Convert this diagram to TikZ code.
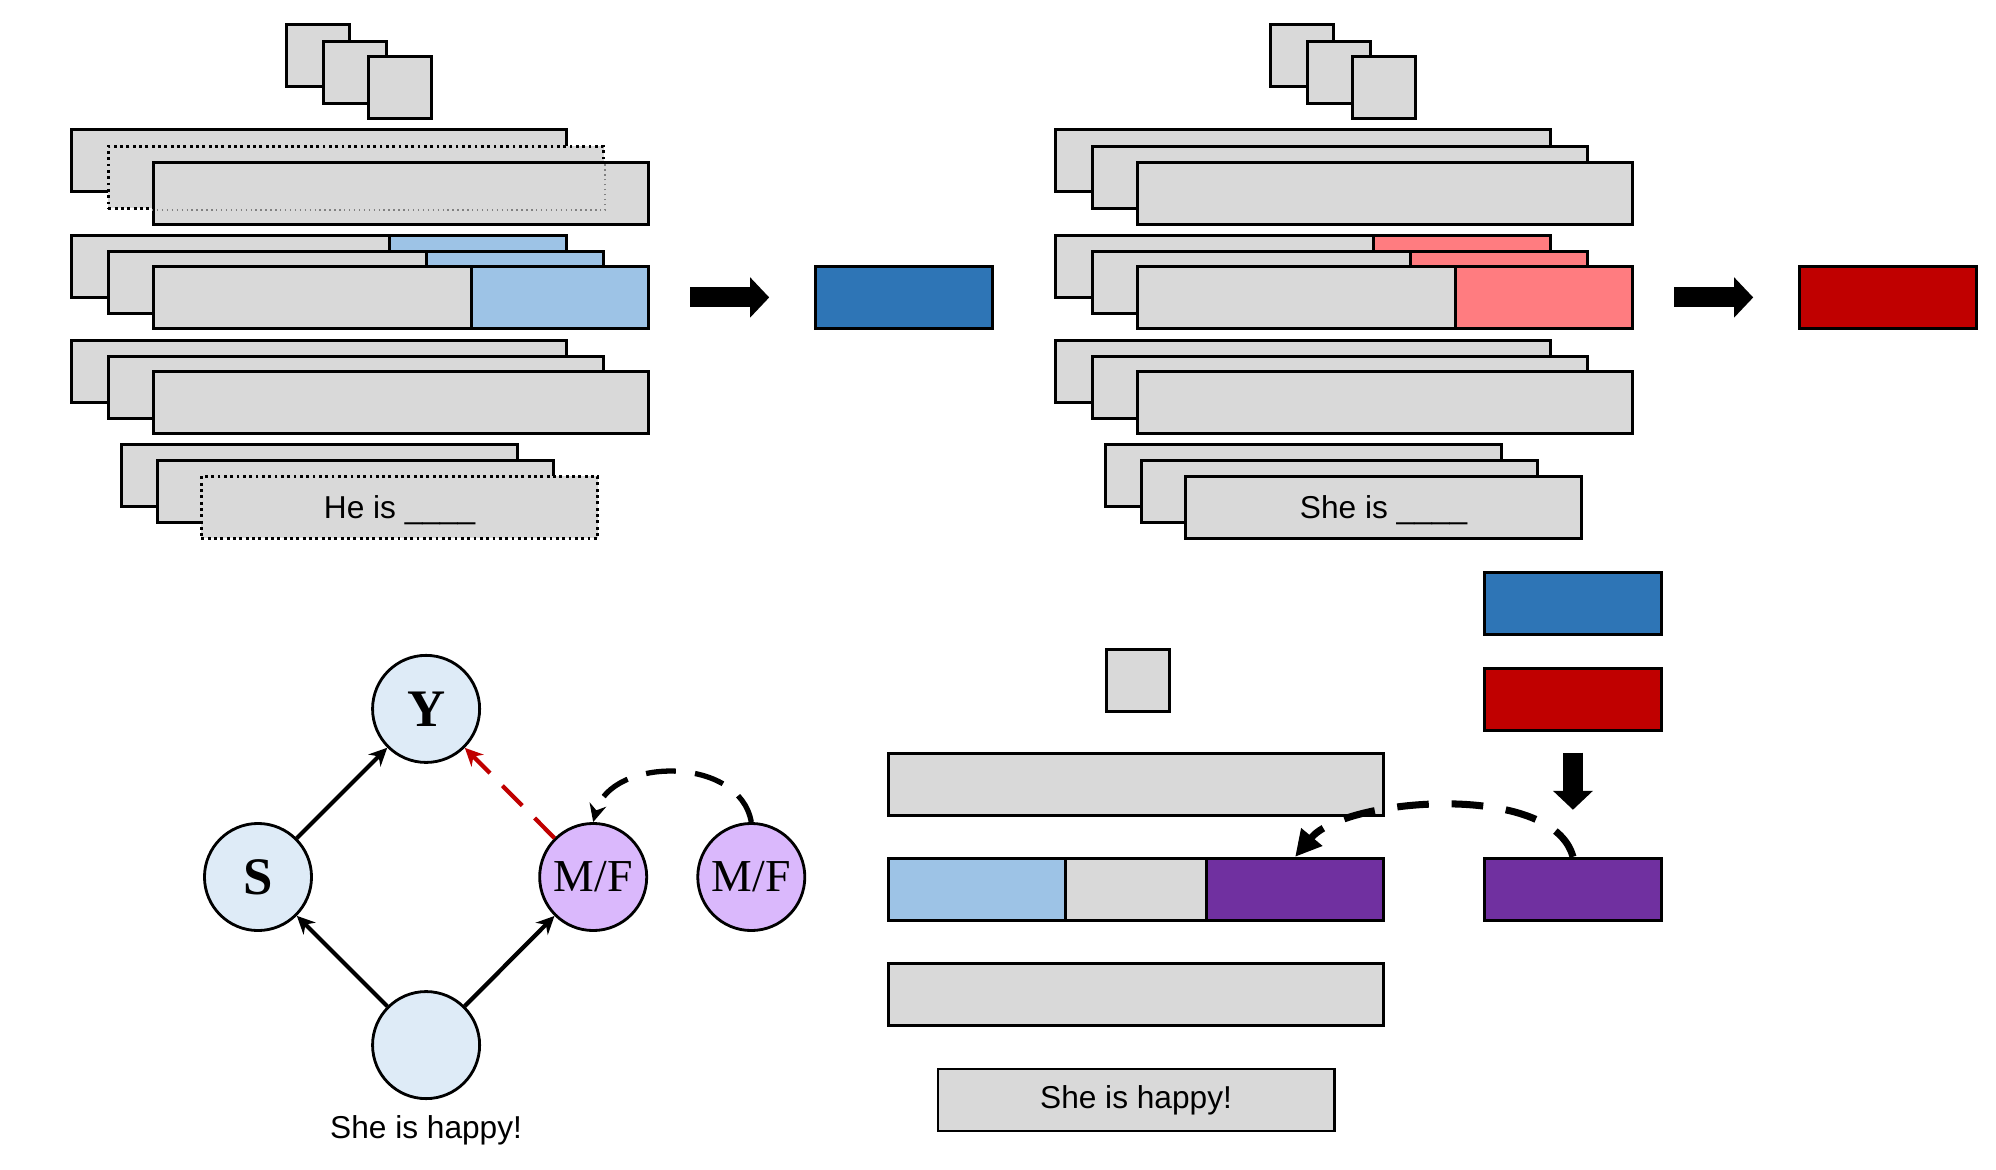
\documentclass[tikz,border=0pt]{standalone}
\usepackage{fontspec}
\setmainfont{Liberation Serif}
\setsansfont{Liberation Sans}
\usetikzlibrary{positioning,arrows.meta}

\definecolor{cardgray}{HTML}{D9D9D9}
\definecolor{lightbar}{HTML}{9DC3E6}
\definecolor{bluevec}{HTML}{2E75B6}
\definecolor{pinkbar}{HTML}{FF7C80}
\definecolor{redvec}{HTML}{C00000}
\definecolor{purplevec}{HTML}{7030A0}
\definecolor{varblue}{HTML}{DEEBF7}
\definecolor{varpurple}{HTML}{DAB8FC}

\begin{document}
\begin{tikzpicture}[x=0.01cm, y=-0.01cm, >={Stealth[length=0.18cm, width=0.17cm]},
    card/.style={draw, fill=cardgray, line width=0.8pt, inner sep=0pt, minimum width=4.95cm, minimum height=0.62cm},
    short/.style={card, minimum width=3.96cm, font=\sffamily\fontsize{9}{11}\selectfont},
    tok/.style={card, minimum width=0.63cm},
    vec/.style={draw, line width=0.8pt, inner sep=0pt, minimum width=1.77cm, minimum height=0.62cm},
    var/.style={circle, draw, line width=0.8pt, inner sep=0pt, minimum size=1.07cm, on grid},
    blockarrow/.style={line width=0.2cm, -{Triangle[length=0.19cm, width=0.39cm]}},
    ]
    \useasboundingbox (0,0) rectangle (1996,1170);

    % left: He is ____
    \node[tok, anchor=north west] (101) at (285,23) {};
    \node[tok] (102) [below right=0.17cm and 0.37cm of 101.north west] {};
    \node[tok] (103) [below right=0.15cm and 0.45cm of 102.north west] {};

    \node[card, anchor=north west] (111) at (70,128) {};
    \node[card, densely dotted] (112) [below right=0.17cm and 0.37cm of 111.north west] {};
    \node[card] (113) [below right=0.16cm and 0.45cm of 112.north west] {};
    \draw[gray, densely dotted] (113.west |- 112.south) -- (112.south east) -- (112.east |- 113.north);

    \node[card, anchor=north west] (121) at (70,234) {};
    \node[vec, fill=lightbar, anchor=north east] (121b) at (121.north east) {};
    \node[card] (122) [below right=0.16cm and 0.37cm of 121.north west] {};
    \node[vec, fill=lightbar, anchor=north east] (122b) at (122.north east) {};
    \node[card] (123) [below right=0.15cm and 0.45cm of 122.north west] {};
    \node[vec, fill=lightbar, anchor=north east] (123b) at (123.north east) {};

    \node[card, anchor=north west] (131) at (70,339) {};
    \node[card] (132) [below right=0.16cm and 0.37cm of 131.north west] {};
    \node[card] (133) [below right=0.15cm and 0.45cm of 132.north west] {};

    \node[short, anchor=north west] (141) at (120,443) {};
    \node[short] (142) [below right=0.16cm and 0.36cm of 141.north west] {};
    \node[short, densely dotted, text depth=0pt] (143) [below right=0.16cm and 0.44cm of 142.north west] {He is \_\_\_\_};

    \node[vec, fill=bluevec] (150) [right=1.64cm of 123b] {};
    \draw[blockarrow, shorten <=0.40cm, shorten >=0.45cm] (123b) -- (150);

    % right: She is ____
    \node[tok, anchor=north west] (201) at (1269,23) {};
    \node[tok] (202) [below right=0.17cm and 0.37cm of 201.north west] {};
    \node[tok] (203) [below right=0.15cm and 0.45cm of 202.north west] {};

    \node[card, anchor=north west] (211) at (1054,128) {};
    \node[card] (212) [below right=0.17cm and 0.37cm of 211.north west] {};
    \node[card] (213) [below right=0.16cm and 0.45cm of 212.north west] {};

    \node[card, anchor=north west] (221) at (1054,234) {};
    \node[vec, fill=pinkbar, anchor=north east] (221b) at (221.north east) {};
    \node[card] (222) [below right=0.16cm and 0.37cm of 221.north west] {};
    \node[vec, fill=pinkbar, anchor=north east] (222b) at (222.north east) {};
    \node[card] (223) [below right=0.15cm and 0.45cm of 222.north west] {};
    \node[vec, fill=pinkbar, anchor=north east] (223b) at (223.north east) {};

    \node[card, anchor=north west] (231) at (1054,339) {};
    \node[card] (232) [below right=0.16cm and 0.37cm of 231.north west] {};
    \node[card] (233) [below right=0.15cm and 0.45cm of 232.north west] {};

    \node[short, anchor=north west] (241) at (1104,443) {};
    \node[short] (242) [below right=0.16cm and 0.36cm of 241.north west] {};
    \node[short, text depth=0pt] (243) [below right=0.16cm and 0.44cm of 242.north west] {She is \_\_\_\_};

    \node[vec, fill=redvec] (250) [right=1.64cm of 223b] {};
    \draw[blockarrow, shorten <=0.40cm, shorten >=0.45cm] (223b) -- (250);

    % bottom right: She is happy!
    \node[tok, anchor=north west] (301) at (1105,648) {};
    \node[card, anchor=north west] (311) at (887,752) {};
    \node[card] (312) [below=0.40cm of 311] {};
    \node[vec, fill=lightbar, anchor=west] (312a) at (312.west) {};
    \node[vec, fill=purplevec, anchor=east] (312c) at (312.east) {};
    \node[card] (313) [below=0.40cm of 312] {};
    \node[short] (314) [below=0.41cm of 313] {She is happy!};

    \node[vec, fill=bluevec, anchor=north west] (350) at (1483,571) {};
    \node[vec, fill=redvec] (351) [below=0.31cm of 350] {};
    \node[vec, fill=purplevec] (352) [below=1.25cm of 351] {};
    \draw[blockarrow, shorten <=0.21cm, shorten >=0.47cm] (351) -- (352);
    \draw[line width=2pt, dash pattern=on 9pt off 6.5pt, -{Triangle[length=0.26cm, width=0.26cm]}]
        (352.north) to[out=105, in=50, looseness=0.72] (312c.north);

    % graph
    \node[var, fill=varblue, font=\bfseries\fontsize{15}{18}\selectfont] (1) at (258,877) {S};
    \node[var, fill=varblue, font=\bfseries\fontsize{15}{18}\selectfont] (2) [above right=1.68cm and 1.68cm of 1] {Y};
    \node[var, fill=varblue] (3) [below right=1.68cm and 1.68cm of 1] {};
    \node[var, fill=varpurple, font=\fontsize{13}{15}\selectfont] (4) [above right=1.68cm and 1.67cm of 3] {M/F};
    \node[var, fill=varpurple, font=\fontsize{13}{15}\selectfont] (5) [right=1.58cm of 4] {M/F};
    \node[on grid, font=\sffamily\fontsize{9}{11}\selectfont] (6) [below=0.85cm of 3] {She is happy!};

    \path[->, line width=1.2pt]
        (3) edge (1)
        (3) edge (4)
        (1) edge (2)
        (4) edge [redvec, dash pattern=on 8pt off 5pt] (2)
    ;
    \draw[->, line width=1.5pt, dash pattern=on 8.5pt off 5.5pt]
        (5.north) to[out=100, in=75, looseness=1.1] (4.north);

\end{tikzpicture}
\end{document}
